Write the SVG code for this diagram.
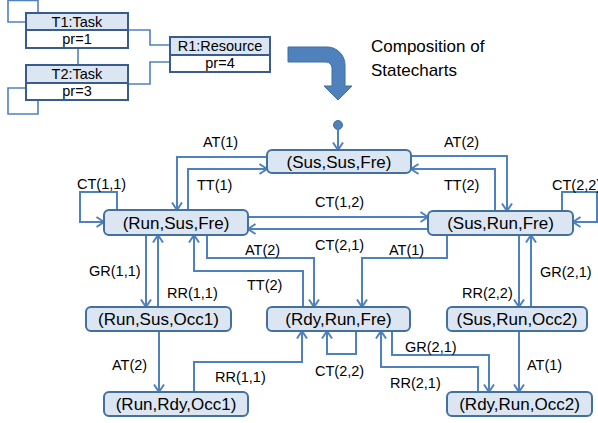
<svg xmlns="http://www.w3.org/2000/svg" width="598" height="423" viewBox="0 0 598 423">
<style>
.box{fill:#dce6f2;stroke:#41719c;stroke-width:2}
.hdr{fill:#dce6f2;stroke:#385d8a;stroke-width:2}
.bdy{fill:#ffffff;stroke:#385d8a;stroke-width:2}
.ul{fill:none;stroke:#4f81bd;stroke-width:1.6}
.e{fill:none;stroke:#4f81bd;stroke-width:2;marker-end:url(#ah)}
.nt{font-family:"Liberation Sans",Arial,sans-serif;font-size:17px;fill:#000;text-anchor:middle}
.ut{font-family:"Liberation Sans",Arial,sans-serif;font-size:14.5px;fill:#000;text-anchor:middle}
.lb{font-family:"Liberation Sans",Arial,sans-serif;font-size:14.5px;fill:#000}
.tt{font-family:"Liberation Sans",Arial,sans-serif;font-size:17px;fill:#000}
</style>
<defs>
<marker id="ah" markerUnits="userSpaceOnUse" markerWidth="12" markerHeight="12" refX="9" refY="6" orient="auto">
<path d="M1.5,1 L9,6 L1.5,11" fill="none" stroke="#4f81bd" stroke-width="2"/>
</marker>
</defs>
<rect width="598" height="423" fill="#ffffff"/>

<!-- UML part -->
<g id="uml-connectors">
<path class="ul" d="M38,13 V0.5 H8 V22 H26"/>
<path class="ul" d="M26,88 H8 V114 H38 V100"/>
<path class="ul" d="M78,48 V65"/>
<path class="ul" d="M128,30 H150 V45 H170"/>
<path class="ul" d="M128,84 H150 V62 H170"/>
</g>
<g id="T1">
<rect class="hdr" x="26" y="13" width="102" height="17"/>
<rect class="bdy" x="26" y="30" width="102" height="18"/>
<text class="ut" x="77" y="27">T1:Task</text>
<text class="ut" x="77" y="44">pr=1</text>
</g>
<g id="T2">
<rect class="hdr" x="26" y="65" width="102" height="18"/>
<rect class="bdy" x="26" y="83" width="102" height="17"/>
<text class="ut" x="77" y="79">T2:Task</text>
<text class="ut" x="77" y="96">pr=3</text>
</g>
<g id="R1">
<rect class="hdr" x="170" y="37" width="100" height="18"/>
<rect class="bdy" x="170" y="55" width="100" height="17"/>
<text class="ut" x="220" y="51">R1:Resource</text>
<text class="ut" x="220" y="68">pr=4</text>
</g>

<g id="big-arrow">
<path d="M288,47 H327 A18,18 0 0 1 345,65 V86 H352 L338,100 L324,86 H332 V68 A6,6 0 0 0 326,62 H288 Z" fill="#4f81bd" stroke="#41719c" stroke-width="1"/>
</g>
<text class="tt" x="371" y="52">Composition of</text>
<text class="tt" x="371" y="76">Statecharts</text>

<!-- Statechart -->
<g id="connectors">
<circle cx="338" cy="125" r="4.5" fill="#4f81bd" stroke="#41719c" stroke-width="1"/>
<path class="e" d="M338,129 V150"/>
<path class="e" d="M267,157 H177 V210"/>
<path class="e" d="M188,210 V169 H267"/>
<path class="e" d="M117,210 V192 H80 V222 H104"/>
<path class="e" d="M411,156 H507 V211"/>
<path class="e" d="M495,211 V169 H411"/>
<path class="e" d="M562,211 V192 H597 V222 H573"/>
<path class="e" d="M248,217 H428"/>
<path class="e" d="M428,229 H248"/>
<path class="e" d="M207,235 V258 H314 V307"/>
<path class="e" d="M303,307 V271 H194 V235"/>
<path class="e" d="M447,235 V258 H362 V307"/>
<path class="e" d="M146,235 V307"/>
<path class="e" d="M158,307 V235"/>
<path class="e" d="M159,331 V392"/>
<path class="e" d="M194,392 V362 H302 V331"/>
<path class="e" d="M356,331 V354 H327 V331"/>
<path class="e" d="M392,331 V355 H489 V392"/>
<path class="e" d="M478,392 V367 H381 V331"/>
<path class="e" d="M519,235 V307"/>
<path class="e" d="M531,307 V235"/>
<path class="e" d="M519,331 V392"/>
</g>
<g id="labels">
<text class="lb" x="203" y="147">AT(1)</text>
<text class="lb" x="197" y="190">TT(1)</text>
<text class="lb" x="77" y="189">CT(1,1)</text>
<text class="lb" x="444" y="147">AT(2)</text>
<text class="lb" x="444" y="190">TT(2)</text>
<text class="lb" x="552" y="190">CT(2,2)</text>
<text class="lb" x="315" y="207">CT(1,2)</text>
<text class="lb" x="315" y="250">CT(2,1)</text>
<text class="lb" x="245" y="255">AT(2)</text>
<text class="lb" x="247" y="290">TT(2)</text>
<text class="lb" x="389" y="255">AT(1)</text>
<text class="lb" x="89" y="276">GR(1,1)</text>
<text class="lb" x="167" y="298">RR(1,1)</text>
<text class="lb" x="462" y="298">RR(2,2)</text>
<text class="lb" x="540" y="277">GR(2,1)</text>
<text class="lb" x="112" y="370">AT(2)</text>
<text class="lb" x="215" y="382">RR(1,1)</text>
<text class="lb" x="315" y="376">CT(2,2)</text>
<text class="lb" x="405" y="352">GR(2,1)</text>
<text class="lb" x="390" y="388">RR(2,1)</text>
<text class="lb" x="527" y="370">AT(1)</text>
</g>

<g id="SusSusFre"><rect class="box" x="267" y="150" width="144" height="23" rx="5"/><text class="nt" x="339" y="167.5">(Sus,Sus,Fre)</text></g>
<g id="RunSusFre"><rect class="box" x="104" y="210" width="144" height="25" rx="5"/><text class="nt" x="176" y="228.5">(Run,Sus,Fre)</text></g>
<g id="SusRunFre"><rect class="box" x="428" y="211" width="145" height="24" rx="5"/><text class="nt" x="500.5" y="229">(Sus,Run,Fre)</text></g>
<g id="RunSusOcc1"><rect class="box" x="86" y="307" width="145" height="24" rx="5"/><text class="nt" x="158.5" y="325">(Run,Sus,Occ1)</text></g>
<g id="RdyRunFre"><rect class="box" x="267" y="307" width="143" height="24" rx="5"/><text class="nt" x="338.5" y="325">(Rdy,Run,Fre)</text></g>
<g id="SusRunOcc2"><rect class="box" x="447" y="307" width="140" height="24" rx="5"/><text class="nt" x="517" y="325">(Sus,Run,Occ2)</text></g>
<g id="RunRdyOcc1"><rect class="box" x="104" y="392" width="144" height="24" rx="5"/><text class="nt" x="176" y="410">(Run,Rdy,Occ1)</text></g>
<g id="RdyRunOcc2"><rect class="box" x="447" y="392" width="145" height="24" rx="5"/><text class="nt" x="519.5" y="410">(Rdy,Run,Occ2)</text></g>
</svg>
